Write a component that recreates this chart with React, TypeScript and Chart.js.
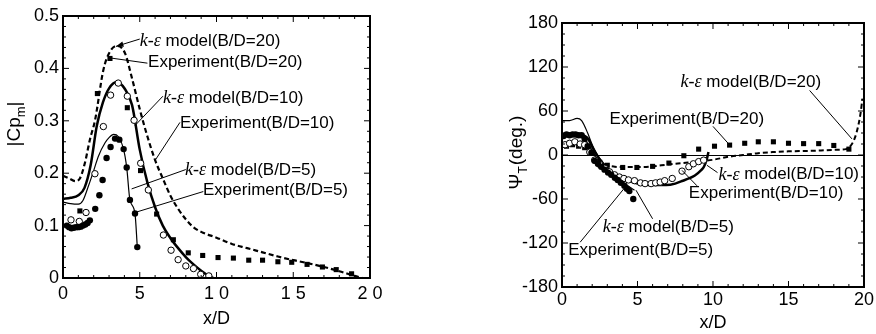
import React, { useEffect, useRef } from "react";
import { Chart, registerables } from "chart.js";
Chart.register(...registerables);

// ---------- Left chart: |Cp_m| vs x/D ----------
const cpXTickLabels = ["0", "5", "1 0", "1 5", "2 0"];
const cpYTickLabels = ["0", "0.1", "0.2", "0.3", "0.4", "0.5"];

const cpExp5: [number, number][] = [
  [0.25, 0.1], [0.4, 0.097], [0.55, 0.095], [0.7, 0.096], [0.85, 0.097], [1.0, 0.097],
  [1.15, 0.098], [1.3, 0.1], [1.45, 0.102], [1.6, 0.105], [1.75, 0.11],
  [2.1, 0.132], [2.37, 0.158], [2.58, 0.187], [2.84, 0.229], [3.1, 0.25], [3.39, 0.266],
  [3.67, 0.264], [3.95, 0.246], [4.15, 0.211], [4.36, 0.149], [4.69, 0.123], [4.84, 0.059],
];
const cpExp10: [number, number][] = [
  [0.52, 0.111], [1.06, 0.108], [1.5, 0.125], [2.08, 0.199], [2.63, 0.289], [3.1, 0.349],
  [3.6, 0.372], [4.19, 0.347], [4.63, 0.301], [5.06, 0.219], [5.56, 0.168], [6.54, 0.082],
  [7.04, 0.053], [7.5, 0.035], [8.0, 0.023], [8.5, 0.018], [8.97, 0.007], [9.5, 0.004],
];
const cpExp20: [number, number][] = [
  [1.1, 0.128], [2.24, 0.352], [3.06, 0.419], [4.19, 0.325], [5.05, 0.205], [6.1, 0.122],
  [7.19, 0.073], [8.16, 0.048], [9.1, 0.043], [10.1, 0.039], [11.1, 0.038], [12.1, 0.034],
  [13.0, 0.034], [14.0, 0.031], [14.9, 0.03], [15.9, 0.026], [16.9, 0.021], [17.8, 0.016],
  [18.8, 0.008],
];
const cpModel5: [number, number][] = [
  [0, 0.145], [0.5, 0.142], [1.0, 0.141], [1.3, 0.148], [1.65, 0.175], [2.0, 0.205],
  [2.3, 0.232], [2.74, 0.258], [3.0, 0.268], [3.3, 0.274], [3.6, 0.27], [3.93, 0.248],
  [4.15, 0.211], [4.36, 0.149], [4.69, 0.123], [4.84, 0.059],
];
const cpModel10: [number, number][] = [
  [0, 0.151], [0.5, 0.153], [1.0, 0.158], [1.4, 0.172], [1.8, 0.215], [2.2, 0.29],
  [2.6, 0.335], [3.0, 0.362], [3.5, 0.374], [4.0, 0.362], [4.5, 0.33], [5.0, 0.245],
  [5.5, 0.182], [6.0, 0.135], [6.5, 0.1], [7.0, 0.076], [7.5, 0.057], [8.0, 0.04],
  [8.5, 0.026], [9.0, 0.014], [9.5, 0.004], [9.8, 0],
];
const cpModel20: [number, number][] = [
  [0, 0.195], [0.4, 0.19], [0.8, 0.185], [1.1, 0.19], [1.43, 0.22], [1.76, 0.265],
  [2.08, 0.3], [2.63, 0.397], [3.06, 0.432], [3.54, 0.443], [4.04, 0.429], [4.47, 0.384],
  [5.02, 0.32], [5.5, 0.27], [6.0, 0.225], [6.5, 0.19], [7.0, 0.157], [7.5, 0.132],
  [8.0, 0.112], [8.5, 0.097], [9.0, 0.088], [10, 0.077], [11, 0.065], [12, 0.057],
  [13, 0.049], [14, 0.041], [15, 0.034], [16, 0.028], [17, 0.021], [18, 0.013],
  [19, 0.004], [19.5, 0.0],
];

// ---------- Right chart: Psi_T vs x/D ----------
const psiXTickLabels = ["0", "5", "10", "15", "20"];
const psiYTickLabels = ["-180", "-120", "-60", "0", "60", "120", "180"];

const psiExp5: [number, number][] = [
  [0.1, 26], [0.3, 28], [0.5, 27], [0.7, 28], [0.9, 28], [1.1, 27], [1.3, 27], [1.5, 22],
  [1.7, 12], [1.95, 3], [2.16, -8], [2.38, -12], [2.6, -16], [2.82, -20], [3.05, -24],
  [3.26, -27], [3.5, -31], [3.69, -34], [3.9, -38], [4.13, -42], [4.3, -46], [4.46, -49],
  [4.72, -60],
];
const psiExp10: [number, number][] = [
  [0.2, 14], [0.5, 16], [0.85, 18], [1.2, 15], [1.5, 14], [1.84, 4], [2.16, -7], [2.5, -13],
  [2.82, -18], [3.15, -23], [3.48, -27], [3.8, -30], [4.1, -32], [4.4, -34], [4.8, -35],
  [5.2, -38], [5.5, -39], [5.9, -39], [6.2, -38], [6.5, -37], [6.8, -35], [7.3, -32],
  [7.95, -22], [8.4, -16], [8.7, -12], [9.05, -9], [9.38, -7],
];
const psiExp20: [number, number][] = [
  [0.3, 12], [0.7, 14], [1.1, 12], [1.5, 10], [2.5, -10], [3.0, -14], [4.02, -17],
  [4.96, -17], [6.0, -15.5], [7.08, -11], [8.07, -1], [9.05, 8], [10.1, 12], [11.1, 13.5],
  [12.1, 16], [13.0, 18], [14.0, 18], [15.0, 16], [16.0, 15.5], [17.0, 15.5], [18.0, 13],
  [19.0, 8],
];
const psiModel5: [number, number][] = [
  [0, 47], [0.5, 47], [1.0, 50], [1.3, 47], [1.7, 30], [2.0, 14], [2.3, 2], [2.6, -8],
  [3.0, -18], [3.5, -28], [4.0, -36], [4.5, -44], [4.8, -48],
];
const psiModel10: [number, number][] = [
  [0, 27], [0.5, 27], [1.0, 27], [1.3, 27], [1.73, 22], [2.16, 4.5], [2.8, -13.6],
  [3.3, -23], [3.9, -31], [4.5, -36], [5.0, -39], [5.5, -40.5], [6.1, -41], [6.9, -41],
  [7.5, -39], [7.95, -35.5], [8.4, -32], [8.8, -28], [9.2, -21], [9.4, -16], [9.6, -5],
  [9.7, 4],
];
const psiModel20: [number, number][] = [
  [0, 28], [0.5, 28], [1.0, 28], [1.4, 24], [1.8, 12], [2.2, -1], [2.6, -9], [3.0, -14],
  [3.5, -16], [4, -16.5], [5, -16.5], [6, -15.5], [7, -13], [8, -11], [9, -9], [10, -6.5],
  [11, -2.5], [12, 0], [13, 2.5], [14, 4], [15, 5], [16, 5.5], [17, 6], [18, 7],
  [18.8, 8], [19.2, 15], [19.5, 30], [19.75, 54], [19.9, 77],
];

// ---------- Annotations (data coordinates) ----------
type Note = {
  ke: boolean;
  label: string;
  tx: number;
  ty: number;
  from: [number, number];
  to: [number, number];
  arrow?: boolean;
};

const cpNotes: Note[] = [
  { ke: true, label: " model(B/D=20)", tx: 5.0, ty: 0.451, from: [3.45, 0.442], to: [5.0, 0.456], arrow: true },
  { ke: false, label: "Experiment(B/D=20)", tx: 5.54, ty: 0.412, from: [3.06, 0.42], to: [5.5, 0.41] },
  { ke: true, label: " model(B/D=10)", tx: 6.51, ty: 0.343, from: [4.69, 0.291], to: [6.51, 0.347] },
  { ke: false, label: "Experiment(B/D=10)", tx: 7.62, ty: 0.295, from: [5.99, 0.224], to: [7.62, 0.297] },
  { ke: true, label: " model(B/D=5)", tx: 7.95, ty: 0.205, from: [4.47, 0.17], to: [8.0, 0.207] },
  { ke: false, label: "Experiment(B/D=5)", tx: 9.12, ty: 0.167, from: [4.69, 0.125], to: [9.14, 0.165] },
];

const psiNotes: Note[] = [
  { ke: true, label: " model(B/D=20)", tx: 7.85, ty: 99, from: [16.4, 88], to: [19.2, 22] },
  { ke: false, label: "Experiment(B/D=20)", tx: 3.15, ty: 49, from: [10.0, 39], to: [11.0, 16] },
  { ke: true, label: " model(B/D=10)", tx: 10.36, ty: -27, from: [10.3, -24], to: [9.6, -14] },
  { ke: false, label: "Experiment(B/D=10)", tx: 8.4, ty: -52, from: [8.94, -42], to: [7.95, -21] },
  { ke: true, label: " model(B/D=5)", tx: 2.7, ty: -99, from: [6.0, -87], to: [4.9, -48] },
  { ke: false, label: "Experiment(B/D=5)", tx: 0.41, ty: -130, from: [1.2, -119], to: [4.1, -46] },
];

const SANS = "'Liberation Sans', Arial, Helvetica, sans-serif";
const SERIF = "'Liberation Serif', 'Times New Roman', serif";

const toXY = (arr: [number, number][]) => arr.map(([x, y]) => ({ x, y }));

function markerSet(data: [number, number][], kind: "filled" | "open" | "square") {
  return {
    data: toXY(data),
    showLine: false,
    pointStyle: kind === "square" ? "rect" : "circle",
    pointRadius: kind === "square" ? 3.6 : 3.2,
    pointBackgroundColor: kind === "open" ? "#fff" : "#000",
    pointBorderColor: "#000",
    pointBorderWidth: kind === "open" ? 1 : 0,
  };
}

function lineSet(data: [number, number][], width: number, dash: number[]) {
  return {
    data: toXY(data),
    showLine: true,
    pointRadius: 0,
    borderColor: "#000",
    borderWidth: width,
    borderDash: dash,
    cubicInterpolationMode: "monotone",
    fill: false,
  };
}

function drawNote(ctx: CanvasRenderingContext2D, chart: any, note: Note, size: number) {
  const xs = chart.scales.x;
  const ys = chart.scales.y;
  const fx = xs.getPixelForValue(note.from[0]);
  const fy = ys.getPixelForValue(note.from[1]);
  const tx2 = xs.getPixelForValue(note.to[0]);
  const ty2 = ys.getPixelForValue(note.to[1]);
  ctx.save();
  ctx.strokeStyle = "#000";
  ctx.lineWidth = 1;
  ctx.beginPath();
  ctx.moveTo(fx, fy);
  ctx.lineTo(tx2, ty2);
  ctx.stroke();
  if (note.arrow) {
    const a = Math.atan2(fy - ty2, fx - tx2);
    const L = 8;
    ctx.fillStyle = "#000";
    ctx.beginPath();
    ctx.moveTo(fx, fy);
    ctx.lineTo(fx - L * Math.cos(a - 0.35), fy - L * Math.sin(a - 0.35));
    ctx.lineTo(fx - L * Math.cos(a + 0.35), fy - L * Math.sin(a + 0.35));
    ctx.closePath();
    ctx.fill();
  }
  let x = xs.getPixelForValue(note.tx);
  const y = ys.getPixelForValue(note.ty);
  ctx.fillStyle = "#000";
  ctx.textBaseline = "middle";
  ctx.textAlign = "left";
  if (note.ke) {
    ctx.font = `italic ${size + 1}px ${SERIF}`;
    ctx.fillText("k-ε", x, y);
    x += ctx.measureText("k-ε").width;
  }
  ctx.font = `${size}px ${SANS}`;
  ctx.fillText(note.label, x, y);
  ctx.restore();
}

function drawFrame(ctx: CanvasRenderingContext2D, chart: any, xMinor: number, yMinor: number, yMajor: number) {
  const { left, right, top, bottom } = chart.chartArea;
  const xs = chart.scales.x;
  const ys = chart.scales.y;
  ctx.save();
  ctx.strokeStyle = "#000";
  ctx.lineWidth = 1;
  ctx.beginPath();
  for (let v = xs.min; v <= xs.max + 1e-9; v += xMinor) {
    const p = xs.getPixelForValue(v);
    const major = Math.abs(v / 5 - Math.round(v / 5)) < 1e-6;
    const len = major ? 6 : 3;
    ctx.moveTo(p, bottom);
    ctx.lineTo(p, bottom - len);
    ctx.moveTo(p, top);
    ctx.lineTo(p, top + len);
  }
  for (let v = ys.min; v <= ys.max + 1e-9; v += yMinor) {
    const p = ys.getPixelForValue(v);
    const major = Math.abs(v / yMajor - Math.round(v / yMajor)) < 1e-6;
    const len = major ? 6 : 3;
    ctx.moveTo(left, p);
    ctx.lineTo(left + len, p);
    ctx.moveTo(right, p);
    ctx.lineTo(right - len, p);
  }
  ctx.stroke();
  ctx.lineWidth = 2;
  ctx.strokeRect(left, top, right - left, bottom - top);
  ctx.restore();
}

function axisCommon(min: number, max: number, step: number, labels: string[], pad: number, fit: (s: any) => void) {
  return {
    type: "linear",
    min,
    max,
    grid: { display: false, drawTicks: false },
    border: { display: false },
    ticks: {
      stepSize: step,
      autoSkip: false,
      maxRotation: 0,
      padding: pad,
      color: "#000",
      font: { size: 18, family: SANS },
      callback: (v: any) => labels[Math.round((Number(v) - min) / step)] ?? "",
    },
    afterFit: fit,
  };
}

function makeLeftConfig(): any {
  return {
    type: "scatter",
    data: {
      datasets: [
        markerSet(cpExp5, "filled"),
        markerSet(cpExp10, "open"),
        markerSet(cpExp20, "square"),
        lineSet(cpModel5, 1.2, []),
        lineSet(cpModel10, 2.5, []),
        lineSet(cpModel20, 2.2, [5, 3]),
      ],
    },
    options: {
      animation: false,
      responsive: false,
      maintainAspectRatio: false,
      layout: { padding: { left: 0, top: 16, right: 70, bottom: 0 } },
      plugins: { legend: { display: false }, tooltip: { enabled: false } },
      scales: {
        x: axisCommon(0, 20, 5, cpXTickLabels, 5, (s: any) => { s.height = 56; }),
        y: axisCommon(0, 0.5, 0.1, cpYTickLabels, 4, (s: any) => { s.width = 63; }),
      },
    },
    plugins: [
      {
        id: "cpDecor",
        afterDraw(chart: any) {
          const ctx = chart.ctx as CanvasRenderingContext2D;
          drawFrame(ctx, chart, 1, 0.02, 0.1);
          cpNotes.forEach((n) => drawNote(ctx, chart, n, 17));
          const { left, right, top, bottom } = chart.chartArea;
          ctx.save();
          ctx.fillStyle = "#000";
          ctx.font = `18px ${SANS}`;
          ctx.textAlign = "center";
          ctx.textBaseline = "middle";
          ctx.fillText("x/D", (left + right) / 2, bottom + 41);
          // y title |Cp_m|
          ctx.translate(left - 48, top + 108);
          ctx.rotate(-Math.PI / 2);
          const big = `19px ${SANS}`;
          const small = `13px ${SANS}`;
          ctx.font = big;
          const w1 = ctx.measureText("|Cp").width;
          const w3 = ctx.measureText("|").width;
          ctx.font = small;
          const w2 = ctx.measureText("m").width;
          const x0 = -(w1 + w2 + w3) / 2;
          ctx.textAlign = "left";
          ctx.font = big;
          ctx.fillText("|Cp", x0, 0);
          ctx.font = small;
          ctx.fillText("m", x0 + w1, 6);
          ctx.font = big;
          ctx.fillText("|", x0 + w1 + w2, 0);
          ctx.restore();
        },
      },
    ],
  };
}

function makeRightConfig(): any {
  return {
    type: "scatter",
    data: {
      datasets: [
        markerSet(psiExp5, "filled"),
        markerSet(psiExp10, "open"),
        markerSet(psiExp20, "square"),
        lineSet(psiModel5, 1.2, []),
        lineSet(psiModel10, 2.5, []),
        lineSet(psiModel20, 2.0, [5, 3]),
      ],
    },
    options: {
      animation: false,
      responsive: false,
      maintainAspectRatio: false,
      layout: { padding: { left: 0, top: 23, right: 9, bottom: 0 } },
      plugins: { legend: { display: false }, tooltip: { enabled: false } },
      scales: {
        x: axisCommon(0, 20, 5, psiXTickLabels, 2, (s: any) => { s.height = 47; }),
        y: axisCommon(-180, 180, 60, psiYTickLabels, 4, (s: any) => { s.width = 122; }),
      },
    },
    plugins: [
      {
        id: "psiDecor",
        beforeDatasetsDraw(chart: any) {
          const ctx = chart.ctx as CanvasRenderingContext2D;
          const { left, right } = chart.chartArea;
          const y0 = Math.round(chart.scales.y.getPixelForValue(0)) + 0.5;
          ctx.save();
          ctx.strokeStyle = "#000";
          ctx.lineWidth = 1;
          ctx.beginPath();
          ctx.moveTo(left, y0);
          ctx.lineTo(right, y0);
          ctx.stroke();
          ctx.restore();
        },
        afterDraw(chart: any) {
          const ctx = chart.ctx as CanvasRenderingContext2D;
          drawFrame(ctx, chart, 1, 15, 60);
          psiNotes.forEach((n) => drawNote(ctx, chart, n, 17));
          const { left, right, top, bottom } = chart.chartArea;
          ctx.save();
          ctx.fillStyle = "#000";
          ctx.font = `18px ${SANS}`;
          ctx.textAlign = "center";
          ctx.textBaseline = "middle";
          ctx.fillText("x/D", (left + right) / 2, bottom + 36);
          // y title Psi_T(deg.)
          ctx.translate(left - 45, top + 130);
          ctx.rotate(-Math.PI / 2);
          const big = `19px ${SANS}`;
          const small = `12px ${SANS}`;
          ctx.font = big;
          const w1 = ctx.measureText("Ψ").width;
          const w3 = ctx.measureText("(deg.)").width;
          ctx.font = small;
          const w2 = ctx.measureText("T").width;
          const x0 = -(w1 + w2 + w3) / 2;
          ctx.textAlign = "left";
          ctx.font = big;
          ctx.fillText("Ψ", x0, 0);
          ctx.font = small;
          ctx.fillText("T", x0 + w1, 7);
          ctx.font = big;
          ctx.fillText("(deg.)", x0 + w1 + w2 + 1, 0);
          ctx.restore();
        },
      },
    ],
  };
}

export default function App() {
  const leftRef = useRef<HTMLCanvasElement | null>(null);
  const rightRef = useRef<HTMLCanvasElement | null>(null);

  useEffect(() => {
    const a = new Chart(leftRef.current as HTMLCanvasElement, makeLeftConfig());
    const b = new Chart(rightRef.current as HTMLCanvasElement, makeRightConfig());
    return () => {
      a.destroy();
      b.destroy();
    };
  }, []);

  return (
    <div
      style={{
        position: "fixed",
        left: 0,
        top: 0,
        width: 876,
        height: 334,
        background: "#fff",
        overflow: "hidden",
      }}
    >
      <canvas
        ref={leftRef}
        width={440}
        height={334}
        style={{ position: "absolute", left: 0, top: 0, width: 440, height: 334 }}
      />
      <canvas
        ref={rightRef}
        width={436}
        height={334}
        style={{ position: "absolute", left: 440, top: 0, width: 436, height: 334 }}
      />
    </div>
  );
}
